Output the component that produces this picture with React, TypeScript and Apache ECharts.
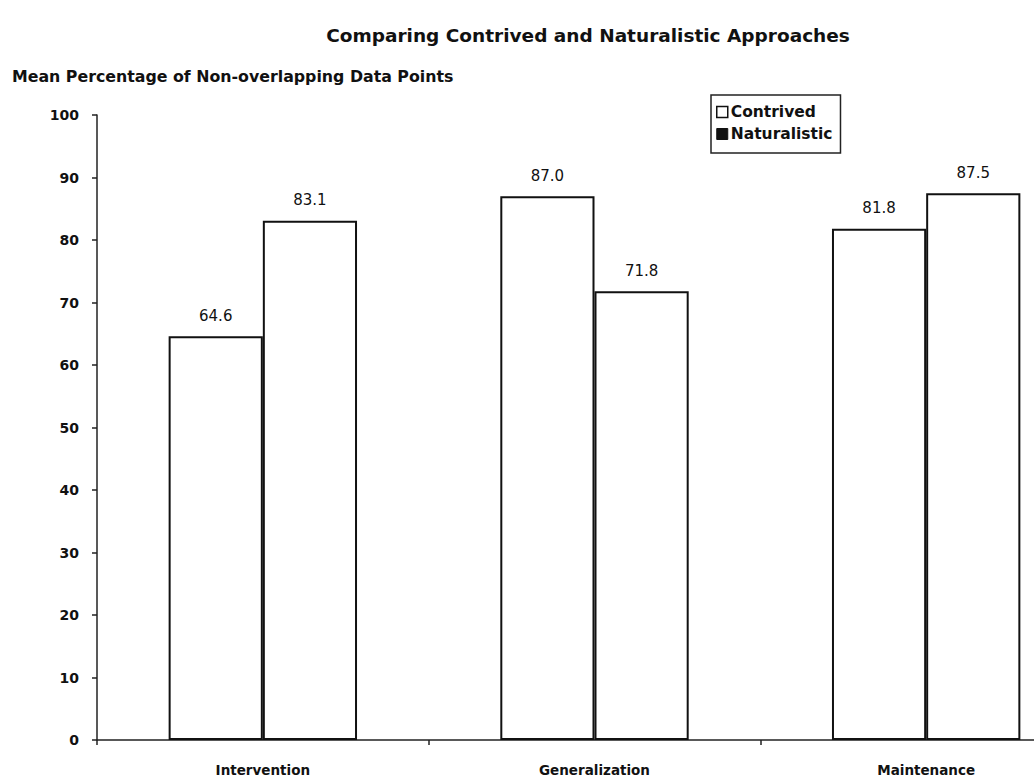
import React, { useEffect, useRef } from "react";
import * as echarts from "echarts";

const categories = ["Intervention", "Generalization", "Maintenance"];
const contrived = [64.6, 87.0, 81.8];
const naturalistic = [83.1, 71.8, 87.5];
const yTicks = [0, 10, 20, 30, 40, 50, 60, 70, 80, 90, 100];

const FONT = "'DejaVu Sans', 'Liberation Sans', Arial, sans-serif";

export default function App() {
  const ref = useRef<HTMLDivElement>(null);
  useEffect(() => {
    if (!ref.current) return;
    const chart = echarts.init(ref.current, null, { renderer: "svg" });
    const labelCfg = {
      show: true,
      position: "top" as const,
      distance: 13,
      color: "#111",
      fontFamily: FONT,
      fontSize: 15,
      formatter: (p: any) => Number(p.value).toFixed(1),
    };
    chart.setOption({
      animation: false,
      backgroundColor: "#fff",
      title: {
        text: "Comparing Contrived and Naturalistic Approaches",
        left: 583,
        top: 21,
        textAlign: "center",
        textStyle: { fontFamily: FONT, fontSize: 18.5, fontWeight: "bold", color: "#111" },
      },
      legend: {
        orient: "vertical",
        left: 711,
        top: 95,
        padding: [9, 8, 11, 5],
        itemGap: 6,
        itemWidth: 11,
        itemHeight: 11,
        borderColor: "#222",
        borderWidth: 1.5,
        borderRadius: 0,
        textStyle: { fontFamily: FONT, fontSize: 15.5, fontWeight: "bold", color: "#111", padding: [0, 0, 0, -2] },
        data: [
          { name: "Contrived", icon: "rect", itemStyle: { color: "#fff", borderColor: "#111", borderWidth: 1.5 } },
          { name: "Naturalistic", icon: "rect", itemStyle: { color: "#111", borderColor: "#111", borderWidth: 1 } },
        ],
      },
      grid: { left: 97, top: 115, bottom: 39, right: 8, containLabel: false },
      xAxis: {
        type: "category",
        data: categories,
        axisLine: { lineStyle: { color: "#222", width: 1.5 } },
        axisTick: { show: true, alignWithLabel: false, length: 5, lineStyle: { color: "#222", width: 1.5 } },
        axisLabel: { margin: 23, fontFamily: FONT, fontSize: 13.5, fontWeight: "bold", color: "#111" },
        splitLine: { show: false },
      },
      yAxis: {
        type: "value",
        min: yTicks[0],
        max: yTicks[yTicks.length - 1],
        interval: 10,
        axisLine: { show: true, lineStyle: { color: "#222", width: 1.5 } },
        axisTick: { show: true, length: 5, lineStyle: { color: "#222", width: 1.5 } },
        axisLabel: { margin: 18, fontFamily: FONT, fontSize: 14, fontWeight: "bold", color: "#111" },
        splitLine: { show: false },
        name: "Mean Percentage of Non-overlapping Data Points",
        nameLocation: "end",
        nameGap: 0,
        nameTextStyle: {
          fontFamily: FONT,
          fontSize: 15.8,
          fontWeight: "bold",
          color: "#111",
          align: "left",
          padding: [0, 0, 31, -85],
        },
      },
      series: [
        {
          name: "Contrived",
          type: "bar",
          data: contrived,
          barWidth: "28.4%",
          barGap: "0%",
          itemStyle: { color: "#fff", borderColor: "#111", borderWidth: 2 },
          label: labelCfg,
        },
        {
          name: "Naturalistic",
          type: "bar",
          data: naturalistic,
          barWidth: "28.4%",
          barGap: "0%",
          itemStyle: { color: "#fff", borderColor: "#111", borderWidth: 2 },
          label: labelCfg,
        },
      ],
    });
    return () => chart.dispose();
  }, []);
  return (
    <div
      style={{ position: "absolute", left: 0, top: 0, width: 1034, height: 779, overflow: "hidden", background: "#fff" }}
    >
      <div ref={ref} style={{ width: 1100, height: 779 }} />
    </div>
  );
}
